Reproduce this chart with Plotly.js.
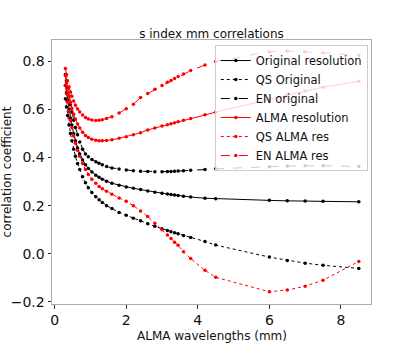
<!DOCTYPE html>
<html>
<head>
<meta charset="utf-8">
<script src="https://cdn.plot.ly/plotly-3.0.1.min.js"></script>
<style>
  body { margin: 0; background: #fff; }
  #corrPlot { width: 415px; height: 346px; }
</style>
</head>
<body>
<div id="corrPlot"></div>
<script>
// wavelengths (mm), shared by all series
let wavelengths = [0.3, 0.33, 0.36, 0.4, 0.44, 0.48, 0.53, 0.58, 0.64, 0.7, 0.78, 0.86, 0.94, 1.04, 1.15, 1.24, 1.33, 1.45, 1.6, 1.8,
  2.0, 2.2, 2.4, 2.6, 2.8, 3.0, 3.15, 3.25, 3.35, 3.45, 3.6, 3.8, 4.2, 4.5, 6.0, 6.5, 7.0, 7.5, 8.5];

let origRes = [0.70, 0.67, 0.64, 0.60, 0.565, 0.535, 0.50, 0.47, 0.44, 0.415, 0.39, 0.37, 0.355, 0.34, 0.327, 0.318, 0.31, 0.302, 0.293, 0.285,
  0.278, 0.272, 0.267, 0.261, 0.256, 0.252, 0.248, 0.246, 0.244, 0.242, 0.239, 0.236, 0.231, 0.229, 0.222, 0.220, 0.219, 0.218, 0.216];

let qsOrig = [0.645, 0.61, 0.575, 0.535, 0.50, 0.47, 0.435, 0.405, 0.375, 0.35, 0.32, 0.295, 0.275, 0.255, 0.237, 0.225, 0.213, 0.20, 0.188, 0.172,
  0.16, 0.148, 0.137, 0.125, 0.114, 0.104, 0.097, 0.092, 0.087, 0.083, 0.076, 0.068, 0.051, 0.036, -0.014, -0.028, -0.039, -0.048, -0.061];

let enOrig = [0.745, 0.72, 0.69, 0.655, 0.62, 0.59, 0.555, 0.525, 0.495, 0.465, 0.435, 0.415, 0.403, 0.392, 0.383, 0.376, 0.37, 0.363, 0.357, 0.352,
  0.348, 0.345, 0.343, 0.342, 0.341, 0.341, 0.342, 0.342, 0.343, 0.344, 0.345, 0.347, 0.350, 0.353, 0.362, 0.365, 0.366, 0.366, 0.363];

let almaRes = [0.74, 0.71, 0.685, 0.655, 0.63, 0.605, 0.58, 0.56, 0.54, 0.523, 0.505, 0.492, 0.483, 0.476, 0.472, 0.47, 0.47, 0.471, 0.474, 0.48,
  0.487, 0.495, 0.503, 0.515, 0.523, 0.531, 0.537, 0.541, 0.545, 0.549, 0.555, 0.563, 0.578, 0.589, 0.642, 0.66, 0.677, 0.693, 0.717];

let qsAlma = [0.70, 0.665, 0.63, 0.59, 0.555, 0.525, 0.49, 0.46, 0.43, 0.405, 0.375, 0.35, 0.33, 0.31, 0.293, 0.28, 0.27, 0.26, 0.247, 0.232,
  0.218, 0.20, 0.178, 0.155, 0.127, 0.100, 0.078, 0.063, 0.048, 0.035, 0.008, -0.02, -0.069, -0.098, -0.158, -0.151, -0.135, -0.11, -0.032];

let enAlma = [0.77, 0.745, 0.72, 0.695, 0.673, 0.655, 0.635, 0.618, 0.602, 0.59, 0.577, 0.567, 0.56, 0.556, 0.554, 0.555, 0.557, 0.562, 0.57, 0.585,
  0.603, 0.622, 0.65, 0.666, 0.684, 0.70, 0.713, 0.721, 0.729, 0.737, 0.748, 0.762, 0.785, 0.80, 0.84, 0.842, 0.84, 0.836, 0.826];

function series(y, name, color, dash) {
  return {
    x: wavelengths,
    y: y,
    mode: "lines+markers",
    name: name,
    line: {color: color, width: 1, dash: dash},
    marker: {color: color, size: 3.5}
  };
}

var data = [
  series(origRes, "Original resolution", "black", "solid"),
  series(qsOrig, "QS Original", "black", "dot"),
  series(enOrig, "EN original", "black", "dash"),
  series(almaRes, "ALMA resolution", "red", "solid"),
  series(qsAlma, "QS ALMA res", "red", "dot"),
  series(enAlma, "EN ALMA res", "red", "dash")
];

var axisStyle = {
  showline: true, mirror: true, linecolor: "#aaa", linewidth: 1,
  ticks: "outside", ticklen: 3.5, tickcolor: "#333", showgrid: false, zeroline: false,
  tickfont: {family: "DejaVu Sans", size: 14, color: "#111"}
};

var layout = {
  width: 415, height: 346,
  font: {family: "DejaVu Sans", color: "#111"},
  title: {text: "s index mm correlations", font: {size: 12}, x: 0.5, xref: "paper", y: 1, yref: "paper", yanchor: "bottom", pad: {b: 2}},
  xaxis: Object.assign({}, axisStyle, {range: [-0.075, 8.84], tickvals: [0, 2, 4, 6, 8]}),
  yaxis: Object.assign({}, axisStyle, {range: [-0.209, 0.889], tickvals: [-0.2, 0, 0.2, 0.4, 0.6, 0.8], tickformat: ".1f",
    title: {text: "correlation coefficient", font: {size: 12}, standoff: 4}}),
  // x title as an annotation so it sits just under the tick labels
  annotations: [{text: "ALMA wavelengths (mm)", xref: "paper", yref: "paper", x: 0.5, y: 0, yanchor: "top",
    yshift: -23, showarrow: false, font: {size: 12}}],
  showlegend: true,
  legend: {x: 0.99, xanchor: "right", y: 0.981, yanchor: "top", bgcolor: "rgba(255,255,255,0.8)",
    bordercolor: "#ccc", borderwidth: 1, font: {size: 11.5}, tracegroupgap: 0},
  margin: {l: 52, r: 44, t: 40, b: 42},
  paper_bgcolor: "white", plot_bgcolor: "white"
};

Plotly.newPlot("corrPlot", data, layout, {displayModeBar: false});
</script>
</body>
</html>
